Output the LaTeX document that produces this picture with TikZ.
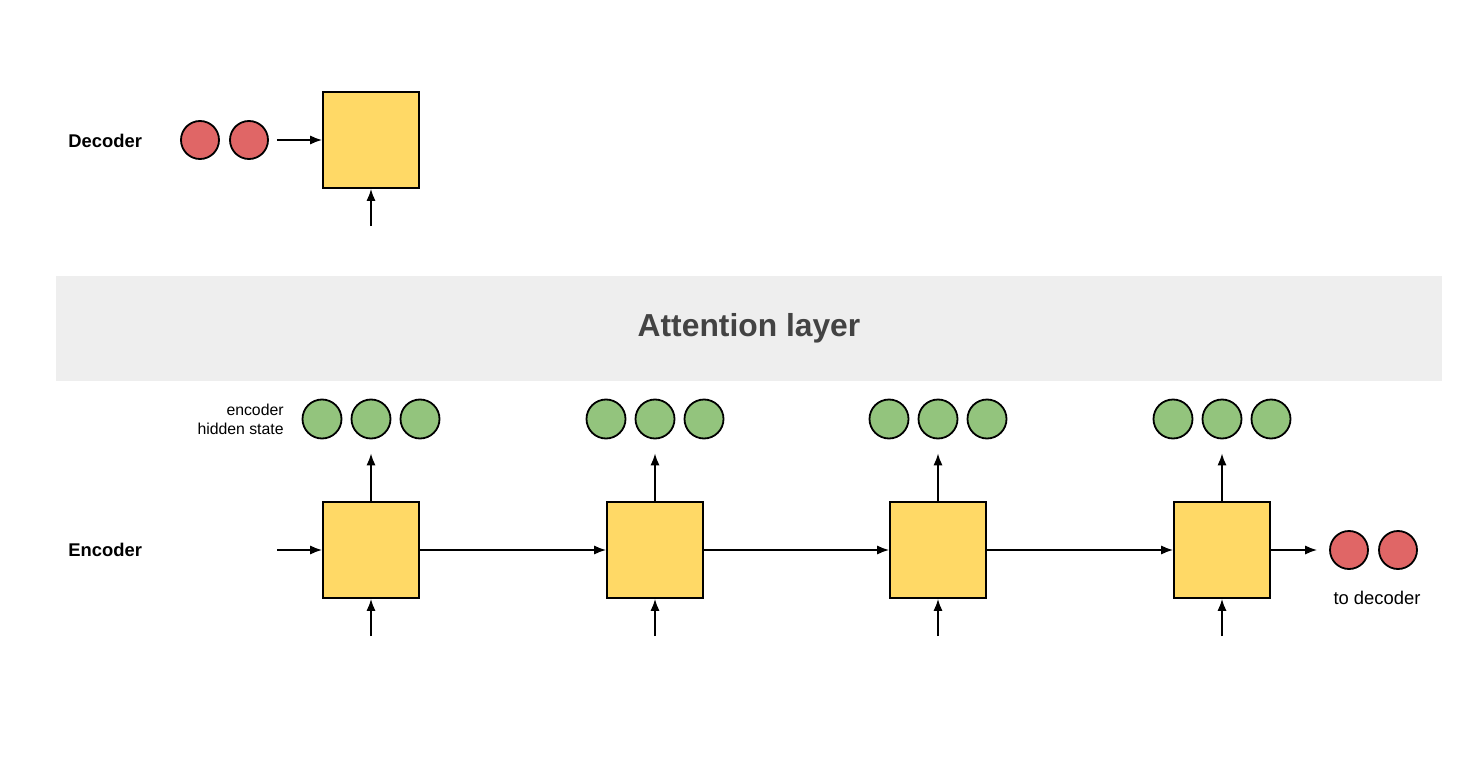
\documentclass[tikz,border=0pt]{standalone}
\usepackage{fontspec}
\setmainfont{Liberation Sans}
\usetikzlibrary{arrows.meta}
\definecolor{cellyellow}{HTML}{FFD966}
\definecolor{hidgreen}{HTML}{93C47D}
\definecolor{statered}{HTML}{E06666}
\definecolor{bandgray}{HTML}{EEEEEE}
\definecolor{bandtext}{HTML}{434343}
\begin{document}
\begin{tikzpicture}[x=0.5pt, y=-0.5pt,
    cell/.style={draw, line width=0.9pt, fill=cellyellow, minimum size=48pt, inner sep=0pt},
    hid/.style={circle, draw, line width=0.9pt, fill=hidgreen, minimum size=19.5pt, inner sep=0pt},
    redstate/.style={circle, draw, line width=0.9pt, fill=statered, minimum size=19pt, inner sep=0pt},
    arr/.style={-{Latex[length=6pt,width=4.6pt]}, line width=0.85pt},
    lbl/.style={inner sep=0pt, font=\fontsize{9.2}{11}\selectfont}]
  \useasboundingbox (0,0) rectangle (1462,765);

  % decoder
  \node[lbl, anchor=west, font=\fontsize{9.2}{11}\selectfont\bfseries] (declabel) at (68,141) {Decoder};
  \node[redstate] (dec1) at (200,140) {};
  \node[redstate] (dec2) at (249,140) {};
  \node[cell] (deccell) at (371,140) {};
  \coordinate (decin) at (371,226);
  \draw[arr, shorten <=4pt] (dec2.east) -- (deccell.west);
  \draw[arr] (decin) -- (deccell.south);

  % attention
  \node[fill=bandgray, minimum width=693pt, minimum height=52.5pt, inner sep=0pt,
    text=bandtext, font=\fontsize{15.9}{19}\selectfont\bfseries] (att) at (749,328.5) {\raisebox{-1pt}{Attention layer}};

  % encoder
  \node[lbl, anchor=west, font=\fontsize{9.2}{11}\selectfont\bfseries] (enclabel) at (68,550) {Encoder};
  \node[lbl, anchor=east, align=right, font=\fontsize{7.9}{9.5}\selectfont] (hidlabel) at (284,419) {encoder\\hidden state};
  \foreach \i/\x in {1/371,2/655,3/938,4/1222} {
    \node[cell] (enc\i) at (\x,550) {};
    \node[hid] (hid\i-1) at (\x-49,419) {};
    \node[hid] (hid\i-2) at (\x,419) {};
    \node[hid] (hid\i-3) at (\x+49,419) {};
    \coordinate (encin\i) at (\x,636);
    \draw[arr] (encin\i) -- (enc\i.south);
    \draw[arr, shorten >=7pt] (enc\i.north) -- (hid\i-2.south);
  }
  \foreach \a/\b in {1/2,2/3,3/4}
    \draw[arr] (enc\a.east) -- (enc\b.west);
  \coordinate (encstart) at (277,550);
  \draw[arr] (encstart) -- (enc1.west);

  % to decoder
  \node[redstate] (tod1) at (1349,550) {};
  \node[redstate] (tod2) at (1398,550) {};
  \draw[arr, shorten >=6pt] (enc4.east) -- (tod1.west);
  \node[lbl] (todlabel) at (1377,598) {to decoder};
\end{tikzpicture}
\end{document}
